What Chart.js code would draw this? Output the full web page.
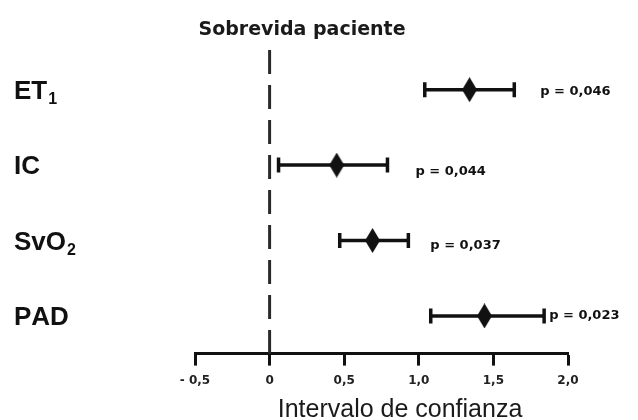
<!DOCTYPE html>
<html><head><meta charset="utf-8">
<script src="https://cdn.jsdelivr.net/npm/chart.js@4.4.1/dist/chart.umd.min.js"></script>
<style>html,body{margin:0;padding:0;background:#fff;}</style>
</head><body>
<canvas id="c" width="638" height="420" style="width:638px;height:420px;display:block"></canvas>
<script>
// ---- data ----
const categories = ['ET₁', 'IC', 'SvO₂', 'PAD'];
const estimates  = [1.34, 0.45, 0.69, 1.44];
const lowerCI    = [1.04, 0.06, 0.47, 1.08];
const upperCI    = [1.64, 0.79, 0.93, 1.84];
const pValues    = ['p = 0,046', 'p = 0,044', 'p = 0,037', 'p = 0,023'];
const tickValues = [-0.5, 0, 0.5, 1.0, 1.5, 2.0];
const tickLabels = ['- 0,5', '0', '0,5', '1,0', '1,5', '2,0'];
const chartTitle = 'Sobrevida paciente';
const xAxisTitle = 'Intervalo de confianza';

// ---- styling helpers ----
const INK = '#111';
function diamondImage(w, h) {
  const c = document.createElement('canvas');
  c.width = w; c.height = h;
  const g = c.getContext('2d');
  g.fillStyle = INK;
  g.beginPath();
  g.moveTo(w / 2, 0); g.lineTo(w, h / 2); g.lineTo(w / 2, h); g.lineTo(0, h / 2);
  g.closePath(); g.fill();
  return c;
}

function drawRich(ctx, text, x, y, size, family) {
  let cx = x;
  for (const ch of text) {
    const code = ch.codePointAt(0);
    if (code >= 0x2080 && code <= 0x2089) {
      const d = String(code - 0x2080);
      ctx.font = `bold ${Math.round(size * 0.62)}px ${family}`;
      ctx.fillText(d, cx + 1, y + size * 0.2);
      cx += ctx.measureText(d).width + 1;
    } else {
      ctx.font = `bold ${size}px ${family}`;
      ctx.fillText(ch, cx, y);
      cx += ctx.measureText(ch).width;
    }
  }
}

const decorPlugin = {
  id: 'decor',
  beforeDatasetsDraw(chart, args, opts) {
    const { ctx, chartArea } = chart;
    const x0 = chart.scales.x.getPixelForValue(0);
    ctx.save();
    ctx.strokeStyle = '#2a2a2a';
    ctx.lineWidth = 3;
    ctx.setLineDash([24, 11]);
    ctx.beginPath();
    ctx.moveTo(x0, chartArea.top - 2);
    ctx.lineTo(x0, chartArea.bottom);
    ctx.stroke();
    ctx.restore();
  },
  afterDraw(chart, args, opts) {
    const { ctx } = chart;
    const xs = chart.scales.x, ys = chart.scales.y;
    ctx.save();
    ctx.fillStyle = INK;
    ctx.textBaseline = 'alphabetic';
    // category labels at the left
    categories.forEach((c, i) => {
      const y = ys.getPixelForValue(i);
      ctx.textAlign = 'left';
      drawRich(ctx, c, opts.labelX, y + 9, 26, '"Liberation Sans", Arial, sans-serif');
    });
    // p values
    ctx.font = 'bold 13px "DejaVu Sans", sans-serif';
    ctx.textBaseline = 'middle';
    pValues.forEach((p, i) => {
      const x = xs.getPixelForValue(upperCI[i]);
      const y = ys.getPixelForValue(i);
      const off = opts.pOffsets[i];
      ctx.fillText(p, x + off[0], y + off[1]);
    });
    // title
    ctx.textAlign = 'center';
    ctx.textBaseline = 'alphabetic';
    ctx.fillStyle = '#1a1a1a';
    ctx.font = 'bold 19px "DejaVu Sans", sans-serif';
    ctx.fillText(chartTitle, opts.titleX, opts.titleY);
    // x axis title
    ctx.font = '25px "Liberation Sans", Arial, sans-serif';
    ctx.fillText(xAxisTitle, opts.xTitleX, opts.xTitleY);
    ctx.restore();
  }
};

const datasets = [{
  label: 'estimate',
  data: categories.map((c, i) => ({ x: estimates[i], y: c })),
  pointStyle: diamondImage(15, 25),
  pointRadius: 12,
  order: 0
}];
categories.forEach((c, i) => {
  datasets.push({
    label: c,
    data: [{ x: lowerCI[i], y: c }, { x: upperCI[i], y: c }],
    showLine: true,
    borderColor: INK,
    borderWidth: 3.5,
    pointStyle: 'line',
    pointRotation: 90,
    pointRadius: 7.5,
    pointBorderWidth: 3.5,
    pointBorderColor: INK,
    order: 1
  });
});

new Chart(document.getElementById('c'), {
  type: 'scatter',
  data: { datasets },
  plugins: [decorPlugin],
  options: {
    responsive: false,
    animation: false,
    devicePixelRatio: 1,
    layout: { padding: { left: 195, right: 70, top: 52, bottom: 24 } },
    plugins: {
      legend: { display: false },
      tooltip: { enabled: false },
      decor: {
        labelX: 14,
        pOffsets: [[26, 2], [28, 7], [22, 5], [5, 0]],
        titleX: 302, titleY: 35,
        xTitleX: 400, xTitleY: 417
      }
    },
    scales: {
      x: {
        type: 'linear',
        min: -0.5, max: 2.0,
        afterBuildTicks: s => { s.ticks = tickValues.map(v => ({ value: v })); },
        ticks: {
          callback: (v, i) => tickLabels[i],
          font: { family: '"DejaVu Sans", sans-serif', weight: 'bold', size: 12 },
          color: '#222',
          padding: 8,
          maxRotation: 0,
          autoSkip: false
        },
        grid: { drawOnChartArea: false, drawTicks: true, tickLength: 12, tickWidth: 3, tickColor: INK },
        border: { display: true, color: INK, width: 3 }
      },
      y: { type: 'category', labels: categories, offset: true, display: false }
    }
  }
});
</script>
</body></html>
